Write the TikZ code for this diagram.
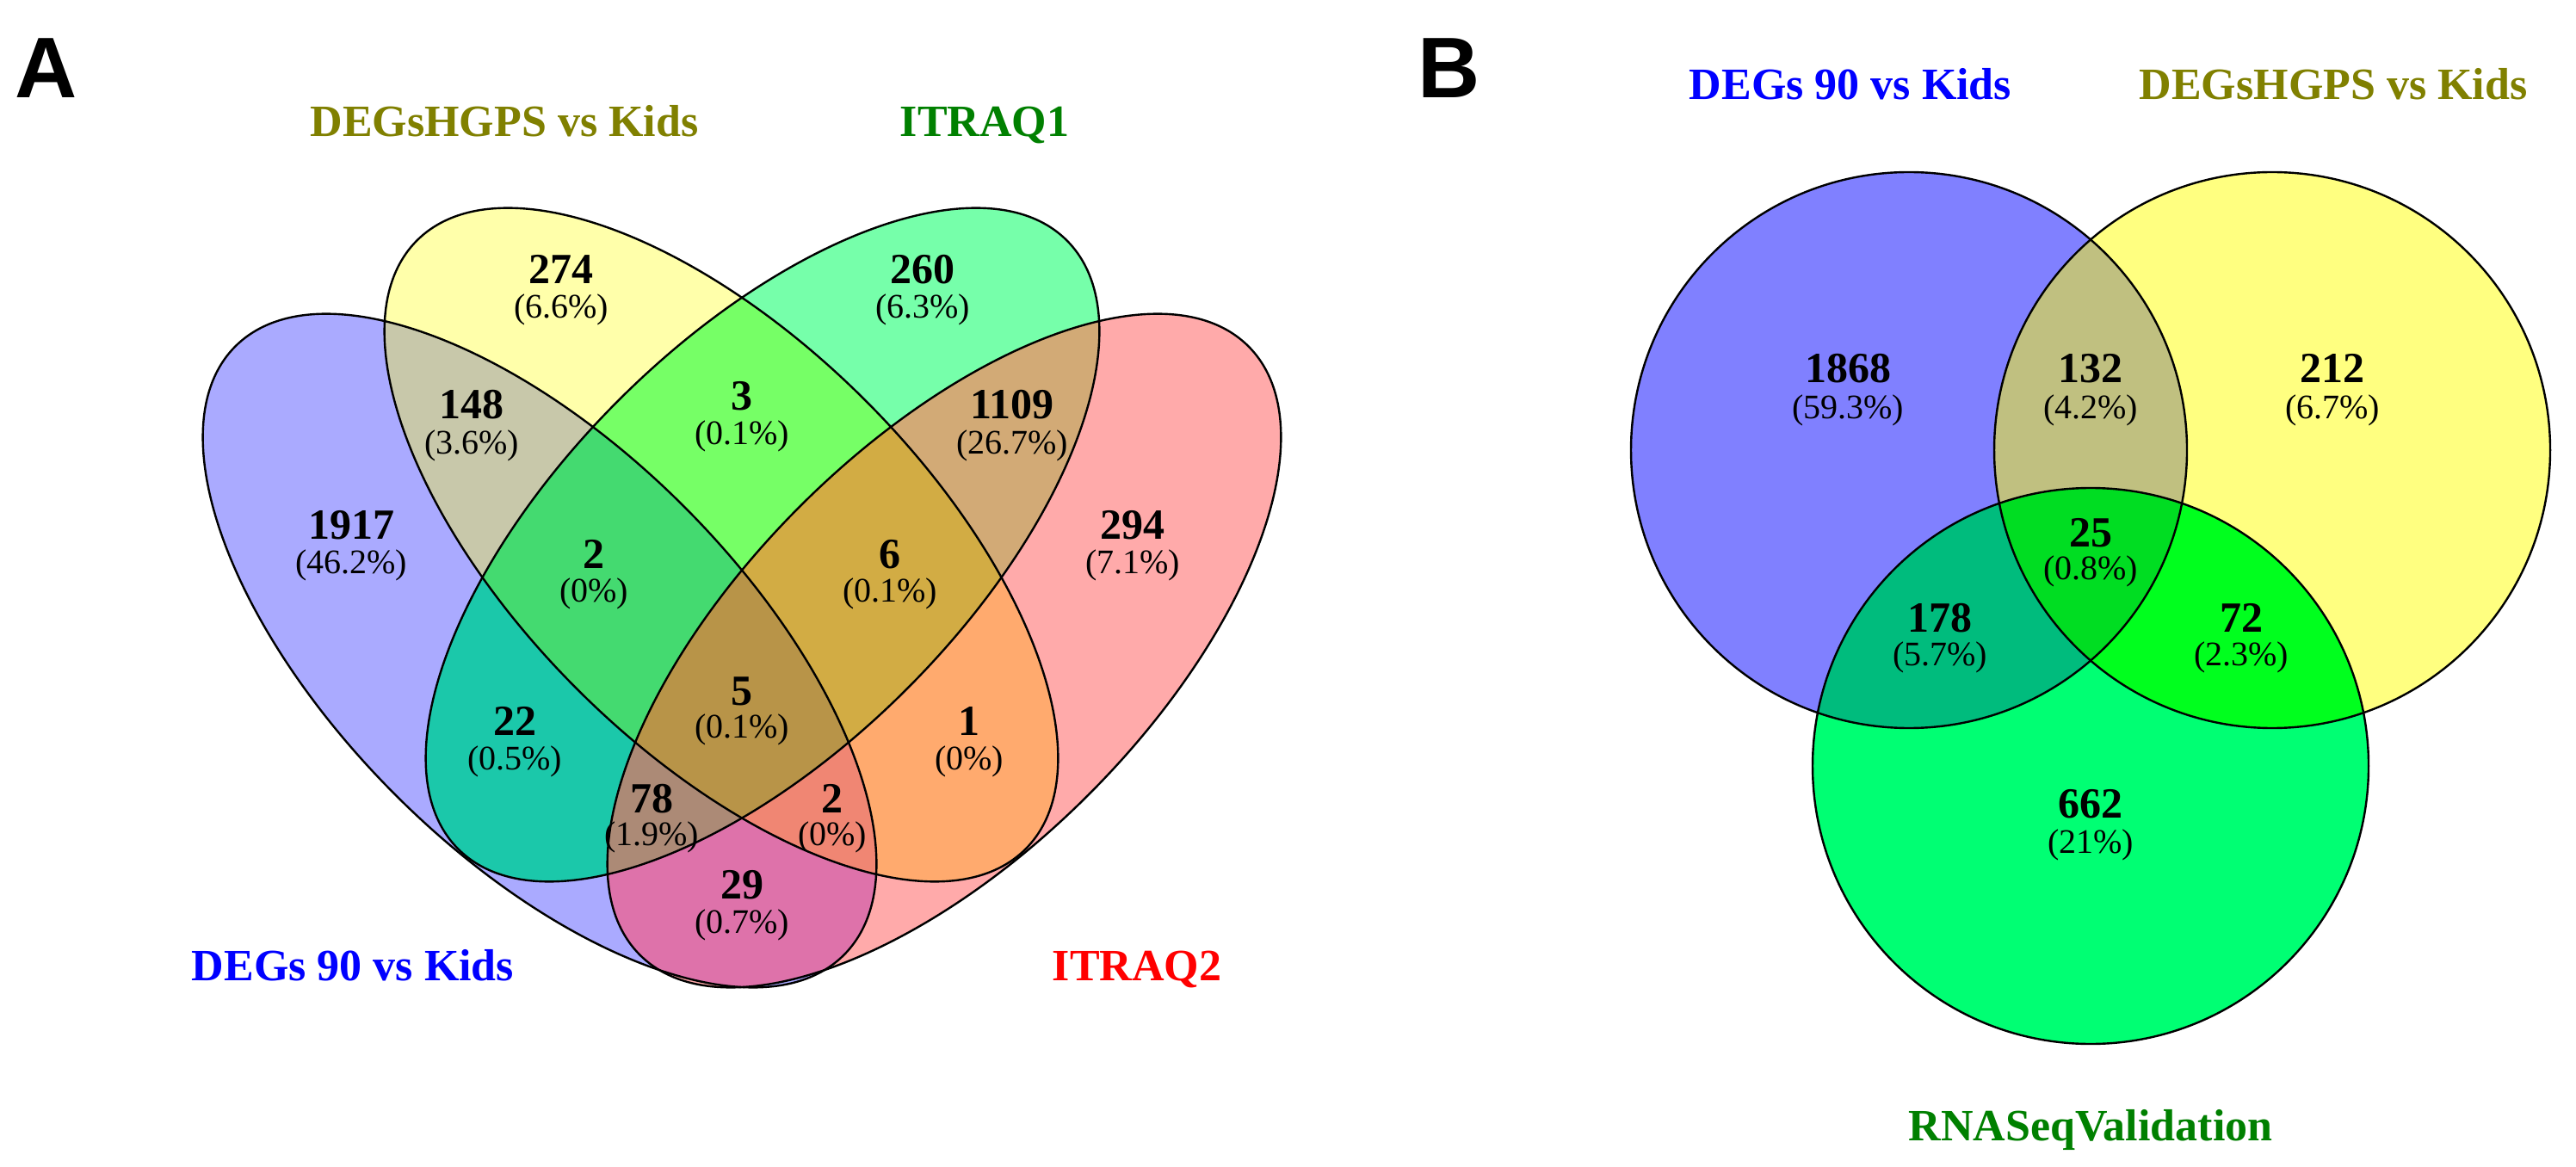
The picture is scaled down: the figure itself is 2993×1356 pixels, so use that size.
\documentclass[tikz,border=0pt]{standalone}
\usepackage{fontspec}
\setmainfont{Liberation Serif}
\newfontfamily\panelfont{Liberation Sans}
% panel A region colours
\definecolor{aB}{RGB}{170,170,255}
\definecolor{aY}{RGB}{255,255,170}
\definecolor{aG}{RGB}{118,255,170}
\definecolor{aR}{RGB}{255,170,170}
\definecolor{aBY}{RGB}{200,200,170}
\definecolor{aBG}{RGB}{27,200,170}
\definecolor{aBR}{RGB}{222,114,170}
\definecolor{aYG}{RGB}{118,255,102}
\definecolor{aYR}{RGB}{255,170,110}
\definecolor{aGR}{RGB}{210,170,118}
\definecolor{aBYG}{RGB}{68,218,112}
\definecolor{aBYR}{RGB}{240,134,115}
\definecolor{aBGR}{RGB}{172,138,118}
\definecolor{aYGR}{RGB}{210,172,68}
\definecolor{aBYGR}{RGB}{184,148,72}
% panel B region colours
\definecolor{bB}{RGB}{128,128,255}
\definecolor{bY}{RGB}{255,255,128}
\definecolor{bG}{RGB}{0,255,115}
\definecolor{bBY}{RGB}{192,192,128}
\definecolor{bBG}{RGB}{0,188,125}
\definecolor{bYG}{RGB}{0,255,30}
\definecolor{bBYG}{RGB}{0,221,34}
% title colours
\definecolor{tBlue}{RGB}{0,0,255}
\definecolor{tOlive}{RGB}{128,128,0}
\definecolor{tGreen}{RGB}{0,128,0}
\definecolor{tRed}{RGB}{255,0,0}
% clipping shapes
\newcommand\clipAb{\clip[rotate around={-45:(627,756)}] (627,756) ellipse [x radius=500, y radius=237];}
\newcommand\clipAy{\clip[rotate around={-45:(838,633)}] (838,633) ellipse [x radius=500, y radius=237];}
\newcommand\clipAg{\clip[rotate around={45:(886,633)}] (886,633) ellipse [x radius=500, y radius=237];}
\newcommand\clipAr{\clip[rotate around={45:(1097,756)}] (1097,756) ellipse [x radius=500, y radius=237];}
\newcommand\clipBb{\clip (2218,523) circle [radius=323];}
\newcommand\clipBy{\clip (2640,523) circle [radius=323];}
\newcommand\clipBg{\clip (2429,890) circle [radius=323];}
\newcommand\regionfill[2]{\begin{scope}#1\fill[#2] (0,0) rectangle (2993,1356);\end{scope}}
\begin{document}
\begin{tikzpicture}[x=0.25pt,y=-0.25pt,
  num/.style={font=\fontsize{12.5}{15}\selectfont\bfseries, inner sep=0pt, anchor=base},
  pct/.style={font=\fontsize{10}{12}\selectfont, inner sep=0pt, anchor=base},
  ttl/.style={font=\fontsize{13}{15}\selectfont\bfseries, inner sep=0pt, anchor=base},
  pan/.style={font=\panelfont\fontsize{25}{30}\selectfont\bfseries, inner sep=0pt, anchor=base},
  outl/.style={draw=black, line width=0.6pt}]
\useasboundingbox (0,0) rectangle (2993,1356);
\fill[white] (0,0) rectangle (2993,1356);

% ---------------- Panel A ----------------
\regionfill{\clipAb}{aB}
\regionfill{\clipAy}{aY}
\regionfill{\clipAg}{aG}
\regionfill{\clipAr}{aR}
\regionfill{\clipAb\clipAy}{aBY}
\regionfill{\clipAb\clipAg}{aBG}
\regionfill{\clipAb\clipAr}{aBR}
\regionfill{\clipAy\clipAg}{aYG}
\regionfill{\clipAy\clipAr}{aYR}
\regionfill{\clipAg\clipAr}{aGR}
\regionfill{\clipAb\clipAy\clipAg}{aBYG}
\regionfill{\clipAb\clipAy\clipAr}{aBYR}
\regionfill{\clipAb\clipAg\clipAr}{aBGR}
\regionfill{\clipAy\clipAg\clipAr}{aYGR}
\regionfill{\clipAb\clipAy\clipAg\clipAr}{aBYGR}
\draw[outl, rotate around={-45:(627,756)}] (627,756) ellipse [x radius=500, y radius=237];
\draw[outl, rotate around={-45:(838,633)}] (838,633) ellipse [x radius=500, y radius=237];
\draw[outl, rotate around={45:(886,633)}] (886,633) ellipse [x radius=500, y radius=237];
\draw[outl, rotate around={45:(1097,756)}] (1097,756) ellipse [x radius=500, y radius=237];

\node[pan] (panA) at (54,114) {A};
\node[ttl, text=tOlive] (tAhgps) at (586,159) {DEGsHGPS vs Kids};
\node[ttl, text=tGreen] (tAit1) at (1144,159) {ITRAQ1};
\node[ttl, text=tBlue] (tAdeg) at (410,1139) {DEGs 90 vs Kids};
\node[ttl, text=tRed] (tAit2) at (1321,1139) {ITRAQ2};

\node[num] (nA1917) at (408,627) {1917};   \node[pct] (pA1917) at (408,667) {(46.2\%)};
\node[num] (nA274) at (652,330) {274};     \node[pct] (pA274) at (652,370) {(6.6\%)};
\node[num] (nA260) at (1072,330) {260};    \node[pct] (pA260) at (1072,370) {(6.3\%)};
\node[num] (nA294) at (1316,627) {294};    \node[pct] (pA294) at (1316,667) {(7.1\%)};
\node[num] (nA148) at (548,487) {148};     \node[pct] (pA148) at (548,528) {(3.6\%)};
\node[num] (nA1109) at (1176,487) {1109};  \node[pct] (pA1109) at (1176,528) {(26.7\%)};
\node[num] (nA3) at (862,477) {3};         \node[pct] (pA3) at (862,517) {(0.1\%)};
\node[num] (nA2a) at (690,660) {2};        \node[pct] (pA2a) at (690,700) {(0\%)};
\node[num] (nA6) at (1034,660) {6};        \node[pct] (pA6) at (1034,700) {(0.1\%)};
\node[num] (nA5) at (862,819) {5};         \node[pct] (pA5) at (862,857) {(0.1\%)};
\node[num] (nA22) at (598,854) {22};       \node[pct] (pA22) at (598,894) {(0.5\%)};
\node[num] (nA1) at (1126,854) {1};        \node[pct] (pA1) at (1126,894) {(0\%)};
\node[num] (nA78) at (757,944) {78};       \node[pct] (pA78) at (757,982) {(1.9\%)};
\node[num] (nA2b) at (967,944) {2};        \node[pct] (pA2b) at (967,982) {(0\%)};
\node[num] (nA29) at (862,1044) {29};      \node[pct] (pA29) at (862,1084) {(0.7\%)};

% ---------------- Panel B ----------------
\regionfill{\clipBb}{bB}
\regionfill{\clipBy}{bY}
\regionfill{\clipBg}{bG}
\regionfill{\clipBb\clipBy}{bBY}
\regionfill{\clipBb\clipBg}{bBG}
\regionfill{\clipBy\clipBg}{bYG}
\regionfill{\clipBb\clipBy\clipBg}{bBYG}
\draw[outl] (2218,523) circle [radius=323];
\draw[outl] (2640,523) circle [radius=323];
\draw[outl] (2429,890) circle [radius=323];

\node[pan] (panB) at (1684,114) {B};
\node[ttl, text=tBlue] (tBdeg) at (2150,116) {DEGs 90 vs Kids};
\node[ttl, text=tOlive] (tBhgps) at (2711,116) {DEGsHGPS vs Kids};
\node[ttl, text=tGreen] (tBrna) at (2429,1325) {RNASeqValidation};

\node[num] (nB1868) at (2147,445) {1868};  \node[pct] (pB1868) at (2147,487) {(59.3\%)};
\node[num] (nB132) at (2429,445) {132};    \node[pct] (pB132) at (2429,487) {(4.2\%)};
\node[num] (nB212) at (2710,445) {212};    \node[pct] (pB212) at (2710,487) {(6.7\%)};
\node[num] (nB25) at (2429,635) {25};      \node[pct] (pB25) at (2429,673) {(0.8\%)};
\node[num] (nB178) at (2254,734) {178};    \node[pct] (pB178) at (2254,773) {(5.7\%)};
\node[num] (nB72) at (2604,734) {72};      \node[pct] (pB72) at (2604,773) {(2.3\%)};
\node[num] (nB662) at (2429,950) {662};    \node[pct] (pB662) at (2429,991) {(21\%)};
\end{tikzpicture}
\end{document}
